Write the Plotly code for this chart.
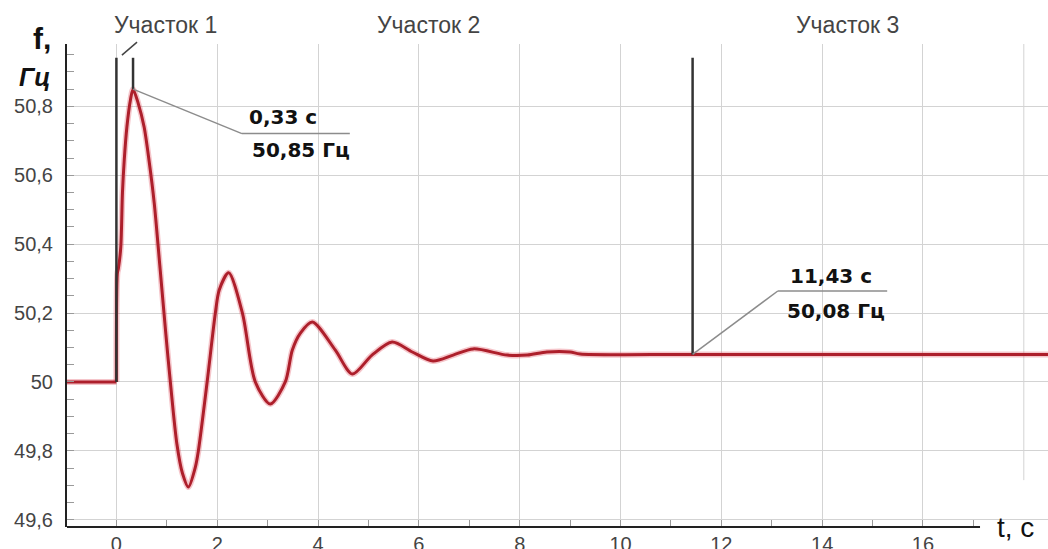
import plotly.graph_objects as go

# Frequency response after the disturbance
t_pre = [-0.98, 0.0]
f_pre = [50.0, 50.0]

t_main = [0.0, 0.02, 0.04, 0.087, 0.12, 0.156, 0.208, 0.28, 0.33, 0.43, 0.55, 0.65,
          0.75, 0.86, 0.98, 1.07, 1.20, 1.31, 1.427, 1.566, 1.626, 1.80, 1.963, 2.04, 2.227,
          2.50, 2.756, 3.053, 3.35, 3.49, 3.65, 3.886, 4.34, 4.68, 5.07, 5.47,
          5.87, 6.28, 6.68, 7.08, 7.75, 8.15, 8.54, 9.0, 9.2, 11.43, 18.48]
f_main = [50.0, 50.316, 50.33, 50.392, 50.549, 50.645, 50.74, 50.82, 50.85, 50.81, 50.74, 50.64,
          50.52, 50.34, 50.14, 50.0, 49.82, 49.735, 49.695, 49.753, 49.80, 50.0, 50.2, 50.267, 50.317,
          50.2, 50.0, 49.936, 50.0, 50.093, 50.142, 50.174, 50.093, 50.023, 50.078, 50.116,
          50.087, 50.061, 50.078, 50.096, 50.078, 50.078, 50.087, 50.087, 50.081, 50.08, 50.08]

# Section boundaries and marked points
t_marks = [0.0, 0.33, 11.43]
f_marks = [50.0, 50.85, 50.08]
marker_top = 50.941

peak_t, peak_f = 0.33, 50.85
steady_t, steady_f = 11.43, 50.08

x_ticks = [0, 2, 4, 6, 8, 10, 12, 14, 16]
y_ticks = [49.6, 49.8, 50.0, 50.2, 50.4, 50.6, 50.8]
y_tick_text = ["49,6", "49,8", "50", "50,2", "50,4", "50,6", "50,8"]
section_names = ["Участок 1", "Участок 2", "Участок 3"]
section_x = [0.97, 6.19, 14.51]

RED = "#ad1f2b"
HALO = "rgba(225,80,95,0.33)"
DARK = "#333333"
GRID = "#d3d3d3"
LEADER = "#8c8c8c"

fig = go.Figure()
for tx, fy in ((t_pre, f_pre), (t_main, f_main)):
    fig.add_trace(go.Scatter(x=tx, y=fy, mode="lines",
                             line=dict(color=HALO, width=6, shape="spline", smoothing=0.8),
                             hoverinfo="skip"))
for tx, fy in ((t_pre, f_pre), (t_main, f_main)):
    fig.add_trace(go.Scatter(x=tx, y=fy, mode="lines",
                             line=dict(color=RED, width=3, shape="spline", smoothing=0.8)))

shapes = []
# vertical section markers
for tm, fm in zip(t_marks, f_marks):
    shapes.append(dict(type="line", xref="x", yref="y", x0=tm, x1=tm, y0=fm, y1=marker_top,
                       line=dict(color=DARK, width=2.5)))
# leader lines for the two labelled points
shapes += [
    dict(type="line", xref="x", yref="y", x0=peak_t, y0=peak_f, x1=2.49, y1=50.721,
         line=dict(color=LEADER, width=1.5)),
    dict(type="line", xref="x", yref="y", x0=2.49, y0=50.721, x1=4.63, y1=50.721,
         line=dict(color=LEADER, width=1.5)),
    dict(type="line", xref="x", yref="y", x0=steady_t, y0=steady_f, x1=13.12, y1=50.264,
         line=dict(color=LEADER, width=1.5)),
    dict(type="line", xref="x", yref="y", x0=13.12, y0=50.264, x1=15.29, y1=50.264,
         line=dict(color=LEADER, width=1.5)),
]
# short pointer for section 1 label
shapes.append(dict(type="line", xref="paper", yref="paper", x0=0.056, y0=0.977, x1=0.0714, y1=1.004,
                   line=dict(color="#444444", width=1.5)))
# last vertical grid line, stopping above the axis label
shapes.append(dict(type="line", xref="x", yref="paper", x0=18, x1=18, y0=0.097, y1=1,
                   line=dict(color=GRID, width=1), layer="below"))
# horizontal axis line ending before "t, c"
shapes.append(dict(type="line", xref="paper", yref="paper", x0=0, x1=0.9307, y0=0, y1=0,
                   line=dict(color="#222222", width=2)))

ann = []
for name, sx in zip(section_names, section_x):
    ann.append(dict(x=sx, y=1.039, xref="x", yref="paper", text=name, showarrow=False,
                    xanchor="center", yanchor="middle",
                    font=dict(family="Liberation Sans", size=23, color="#444444")))
BOLD = dict(family="DejaVu Sans", size=20, color="#111111")
ann += [
    dict(x=2.59, y=50.769, xref="x", yref="y", text="<b>0,33 с</b>", showarrow=False,
         xanchor="left", yanchor="middle", font=BOLD),
    dict(x=2.65, y=50.674, xref="x", yref="y", text="<b>50,85 Гц</b>", showarrow=False,
         xanchor="left", yanchor="middle", font=BOLD),
    dict(x=13.32, y=50.308, xref="x", yref="y", text="<b>11,43 с</b>", showarrow=False,
         xanchor="left", yanchor="middle", font=BOLD),
    dict(x=13.26, y=50.206, xref="x", yref="y", text="<b>50,08 Гц</b>", showarrow=False,
         xanchor="left", yanchor="middle", font=BOLD),
    dict(x=-0.0143, y=1.0124, xref="paper", yref="paper", text="<b>f,</b>", showarrow=False,
         xanchor="right", yanchor="middle",
         font=dict(family="Liberation Sans", size=30, color="#111111")),
    dict(x=-0.0143, y=0.932, xref="paper", yref="paper", text="<b><i>Гц</i></b>", showarrow=False,
         xanchor="right", yanchor="middle",
         font=dict(family="Liberation Sans", size=25, color="#111111")),
    dict(x=0.946, y=0.0, xref="paper", yref="paper", text="t, c", showarrow=False,
         xanchor="left", yanchor="middle",
         font=dict(family="Liberation Sans", size=28, color="#111111")),
]

fig.update_layout(
    width=1048, height=549,
    margin=dict(l=67, r=0, t=44, b=22),
    paper_bgcolor="white", plot_bgcolor="white",
    showlegend=False,
    shapes=shapes, annotations=ann,
    font=dict(family="Liberation Sans"),
    xaxis=dict(range=[-0.98, 18.48], tickvals=x_ticks, ticktext=[str(v) for v in x_ticks],
               showgrid=True, gridcolor=GRID, gridwidth=1, zeroline=False, showline=False,
               ticks="inside", ticklen=7, tickcolor="#9a9a9a",
               minor=dict(tickvals=list(range(1, 18, 2)), ticks="inside", ticklen=7,
                          tickcolor="#9a9a9a", showgrid=False),
               tickfont=dict(size=20, color="#444444"), ticklabelstandoff=3,
               automargin=False, fixedrange=True),
    yaxis=dict(range=[49.579, 50.981], tickvals=y_ticks, ticktext=y_tick_text,
               showgrid=True, gridcolor=GRID, gridwidth=1, zeroline=False,
               showline=True, linecolor="#222222", linewidth=2,
               ticks="inside", ticklen=7, tickcolor="#9a9a9a",
               minor=dict(dtick=0.05, ticks="inside", ticklen=7, tickcolor="#9a9a9a",
                          showgrid=False),
               tickfont=dict(size=20, color="#444444"), ticklabelstandoff=8,
               automargin=False, fixedrange=True),
)

fig.write_html("out.html")
